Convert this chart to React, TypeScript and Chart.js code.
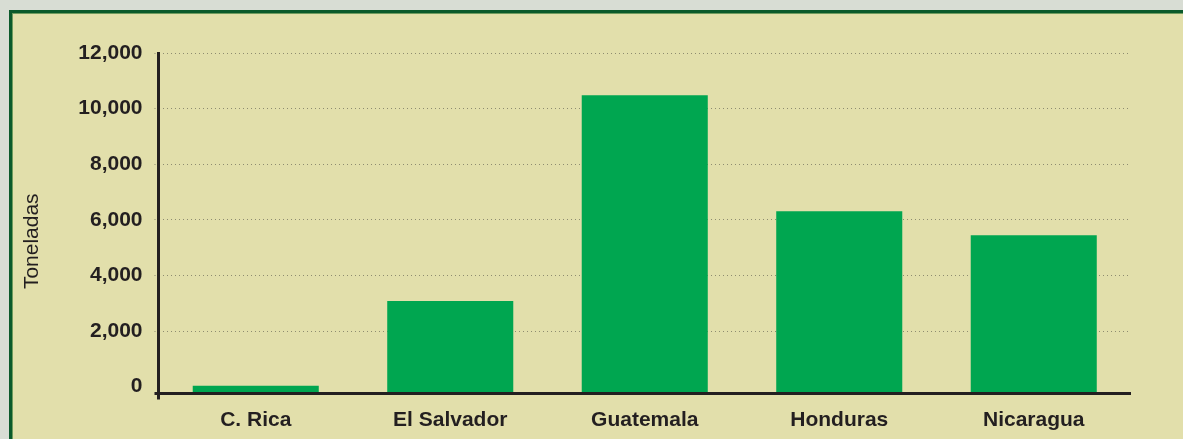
import React, { useEffect, useRef } from "react";
import { Chart, registerables } from "chart.js";

Chart.register(...registerables);

const categories = ["C. Rica", "El Salvador", "Guatemala", "Honduras", "Nicaragua"];
const toneladas = [30, 3080, 10480, 6310, 5450];
const yTickValues = [0, 2000, 4000, 6000, 8000, 10000, 12000];
const Y_MIN = -245;
const Y_MAX = 12000;
const Y_TITLE = "Toneladas";

const INK = "#231f20";
const GRID = "#8e8c70";
const FONT = "'Liberation Sans', Arial, sans-serif";

const gridColor = (c: any) => (c.tick && c.tick.value === 0 ? "rgba(0,0,0,0)" : GRID);

const axesPlugin = {
  id: "customAxes",
  afterDatasetsDraw(chart: any) {
    const { ctx, chartArea } = chart;
    const { left, right, top, bottom } = chartArea;
    ctx.save();
    ctx.strokeStyle = INK;
    ctx.lineWidth = 3;
    ctx.beginPath();
    ctx.moveTo(left - 4, bottom);
    ctx.lineTo(right, bottom);
    ctx.stroke();
    ctx.beginPath();
    ctx.moveTo(left, top - 1);
    ctx.lineTo(left, bottom + 6);
    ctx.stroke();
    ctx.fillStyle = INK;
    ctx.font = `21px ${FONT}`;
    ctx.textAlign = "center";
    ctx.textBaseline = "middle";
    ctx.translate(left - 126, (top + bottom) / 2 + 18);
    ctx.rotate(-Math.PI / 2);
    ctx.fillText(Y_TITLE, 0, 0);
    ctx.restore();
  },
};

export default function App() {
  const ref = useRef<HTMLCanvasElement>(null);
  useEffect(() => {
    if (!ref.current) return;
    const chart = new Chart(ref.current, {
      type: "bar",
      data: {
        labels: categories,
        datasets: [
          {
            data: toneladas,
            base: Y_MIN,
            backgroundColor: "#00a650",
            borderWidth: 0,
            categoryPercentage: 1,
            barPercentage: 0.648,
          } as any,
        ],
      },
      options: {
        animation: false,
        responsive: false,
        maintainAspectRatio: false,
        layout: { padding: { top: 40, right: 52, bottom: 0, left: 0 } },
        plugins: { legend: { display: false }, tooltip: { enabled: false }, title: { display: false } },
        scales: {
          x: {
            grid: { display: true, drawOnChartArea: false, drawTicks: false },
            border: { display: false },
            ticks: {
              color: INK,
              font: { family: FONT, size: 21, weight: "bold" },
              padding: 14,
              maxRotation: 0,
            },
            afterFit: (s: any) => {
              s.height = 45.5;
            },
          },
          y: {
            min: Y_MIN,
            max: Y_MAX,
            border: { display: false, dash: [1, 3] },
            grid: {
              color: gridColor,
              lineWidth: 1,
              tickLength: 4,
              tickColor: gridColor,
              tickBorderDash: [1, 3],
            },
            ticks: {
              color: INK,
              padding: 12,
              font: { family: FONT, size: 21, weight: "bold" },
              callback: (v: any) => Number(v).toLocaleString("en-US"),
            },
            afterBuildTicks: (s: any) => {
              s.ticks = yTickValues.map((v) => ({ value: v }));
            },
            afterFit: (s: any) => {
              s.width = 146.5;
            },
          } as any,
        },
      } as any,
      plugins: [axesPlugin],
    } as any);
    return () => chart.destroy();
  }, []);

  return (
    <div style={{ position: "fixed", left: 0, top: 0, width: 1183, height: 439, background: "#d8ddd4", overflow: "hidden" }}>
      <div
        style={{
          position: "absolute",
          left: 9,
          top: 10,
          width: 1200,
          height: 460,
          border: "3px solid #0b5a2b",
          boxShadow: "inset 0 0 0 1px #6f9c5e",
          background: "#e2dfab",
        }}
      />
      <canvas ref={ref} width={1171} height={426} style={{ position: "absolute", left: 12, top: 13, width: 1171, height: 426 }} />
    </div>
  );
}
